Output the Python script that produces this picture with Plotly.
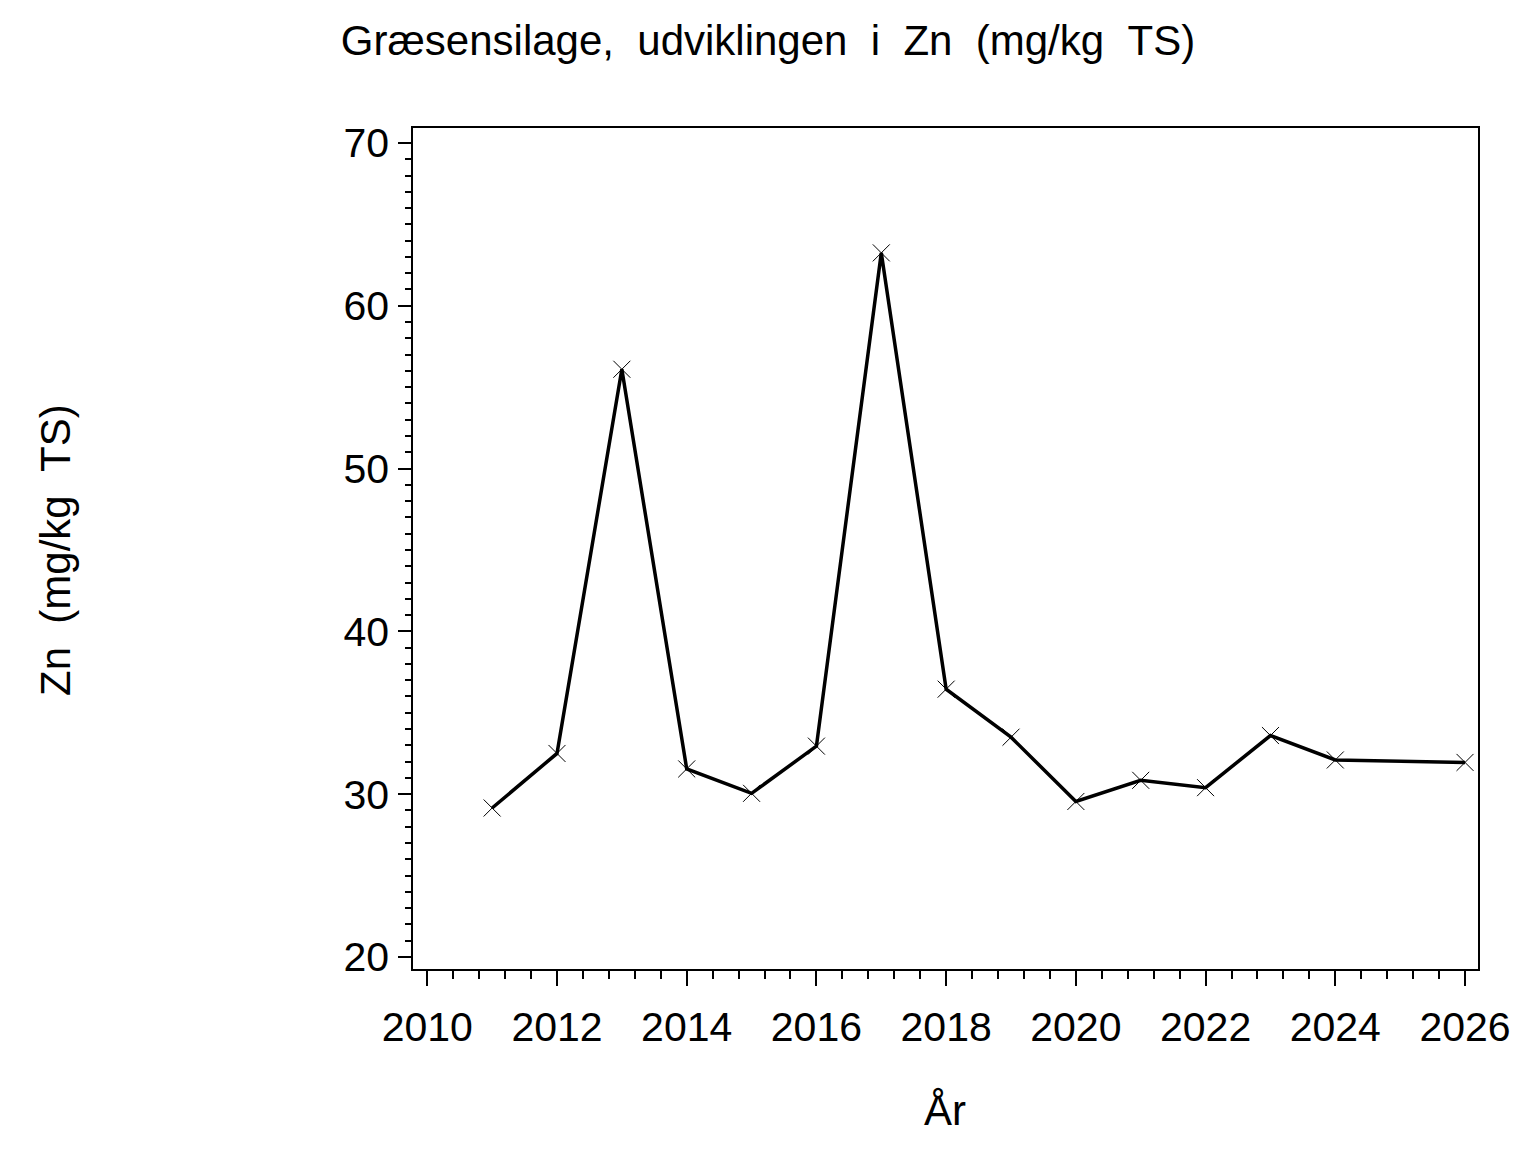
import plotly.graph_objects as go

years = [2011, 2012, 2013, 2014, 2015, 2016, 2017, 2018, 2019, 2020, 2021, 2022, 2023, 2024, 2026]
zn = [29.15, 32.5, 56.1, 31.55, 30.05, 32.95, 63.25, 36.45, 33.5, 29.55, 30.85, 30.4, 33.6, 32.1, 31.95]

x_ticks = [2010, 2012, 2014, 2016, 2018, 2020, 2022, 2024, 2026]
y_ticks = [20, 30, 40, 50, 60, 70]

title_text = "Græsensilage,\u00a0\u00a0udviklingen\u00a0\u00a0i\u00a0\u00a0Zn\u00a0\u00a0(mg/kg\u00a0\u00a0TS)"
y_title = "Zn\u00a0\u00a0(mg/kg\u00a0\u00a0TS)"
x_title = "År"

FONT = "Liberation Sans, Arial, sans-serif"

W, H = 1528, 1144
ML, MR, MT, MB = 405, 58, 120, 183
PW = W - ML - MR
PH = H - MT - MB

fig = go.Figure()
fig.add_trace(go.Scatter(
    x=years, y=zn, mode="lines+markers",
    line=dict(color="black", width=3.5),
    marker=dict(symbol="x-thin", size=17, line=dict(color="black", width=1), color="black"),
    showlegend=False,
))

fig.update_layout(
    width=W, height=H,
    paper_bgcolor="white", plot_bgcolor="white",
    margin=dict(l=ML, r=MR, t=MT, b=MB),
    font=dict(family=FONT, color="black", size=41),
    title=dict(text=title_text, x=760 / W, xref="container", xanchor="center",
               y=1 - 32 / H, yref="container", yanchor="middle",
               font=dict(size=42, family=FONT, color="black")),
    annotations=[
        dict(text=y_title, xref="paper", yref="paper", x=(47 - ML) / PW,
             y=(MT + PH - 542) / PH,
             xanchor="center", yanchor="middle", textangle=-90, showarrow=False,
             font=dict(size=42, family=FONT, color="black")),
        dict(text=x_title, xref="paper", yref="paper", x=(937 - ML) / PW,
             y=-(1102 - (MT + PH)) / PH, xanchor="center", yanchor="middle", showarrow=False,
             font=dict(size=42, family=FONT, color="black")),
    ],
)

fig.update_xaxes(
    range=[2009.78, 2026.2], tickvals=x_ticks, ticktext=[str(v) for v in x_ticks],
    showgrid=False, zeroline=False, showline=True, linecolor="black", linewidth=1.5, mirror=True,
    ticks="outside", ticklen=15, tickwidth=1.5, tickcolor="black",
    minor=dict(dtick=0.4, tick0=2010, ticks="outside", ticklen=8, tickwidth=1.5, tickcolor="black", showgrid=False),
    tickfont=dict(size=41, family=FONT, color="black"), ticklabelstandoff=6,
)
fig.update_yaxes(
    range=[19.26, 70.92], tickvals=y_ticks, ticktext=[str(v) for v in y_ticks],
    showgrid=False, zeroline=False, showline=True, linecolor="black", linewidth=1.5, mirror=True,
    ticks="outside", ticklen=13, tickwidth=1.5, tickcolor="black",
    minor=dict(dtick=1, tick0=20, ticks="outside", ticklen=6, tickwidth=1.5, tickcolor="black", showgrid=False),
    tickfont=dict(size=41, family=FONT, color="black"), ticklabelstandoff=1,
)

fig.write_html("out.html")
